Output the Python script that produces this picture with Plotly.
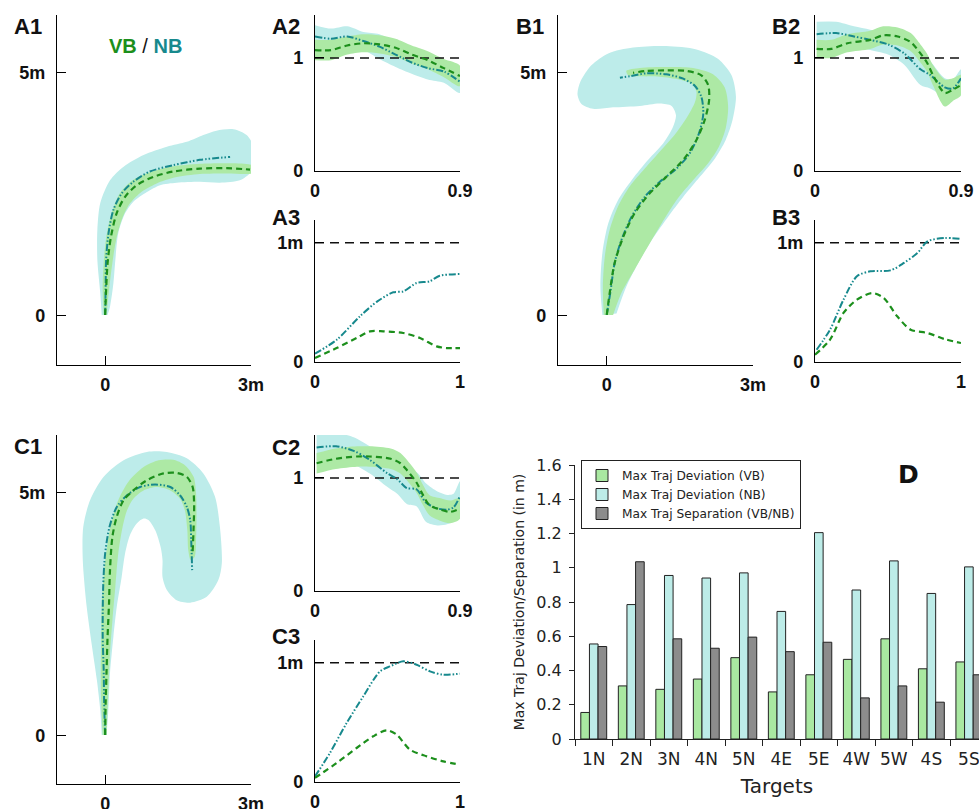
import plotly.graph_objects as go

W, H = 979, 809

GREEN_FILL = "#ade9a5"
CYAN_FILL = "#bdecea"
GREEN_LINE = "#1c8f1c"
TEAL_LINE = "#17898d"
BAR_VB = "#a9e8a1"
BAR_NB = "#bdece8"
BAR_SEP = "#8c8c8c"
LABEL_FONT = "Liberation Sans, Arial, sans-serif"
PLOT_FONT = "DejaVu Sans, sans-serif"

# ---------------- panel D: per-target summary (m) ----------------
targets = ["1N", "2N", "3N", "4N", "5N", "4E", "5E", "4W", "5W", "4S", "5S"]
dev_vb = [0.155, 0.31, 0.29, 0.35, 0.475, 0.275, 0.375, 0.465, 0.585, 0.41, 0.45]
dev_nb = [0.555, 0.785, 0.955, 0.94, 0.97, 0.745, 1.205, 0.87, 1.04, 0.85, 1.005]
sep_vbnb = [0.54, 1.035, 0.585, 0.53, 0.595, 0.51, 0.565, 0.24, 0.31, 0.215, 0.375]

# ---------------- 2-D mean trajectories (x, y in m) ----------------
a1_vb_path = [(0, 0.02), (0.02, 0.53), (0.05, 1.08), (0.12, 1.63), (0.24, 2.12), (0.41, 2.45),
              (0.65, 2.69), (0.99, 2.86), (1.40, 2.97), (1.95, 3.03), (2.50, 3.04), (2.98, 3.01)]
a1_nb_path = [(0, 0.02), (0.01, 0.53), (0.02, 1.15), (0.07, 1.70), (0.17, 2.18), (0.34, 2.52),
              (0.58, 2.76), (0.92, 2.97), (1.40, 3.10), (1.95, 3.21), (2.57, 3.27)]
a1_vb_band = [(-0.03, 0.02), (-0.05, 0.55), (-0.03, 1.10), (0.02, 1.60), (0.10, 2.00), (0.18, 2.25),
              (0.30, 2.52), (0.55, 2.78), (0.90, 2.95), (1.35, 3.07), (1.95, 3.13), (2.50, 3.14),
              (2.95, 3.12), (3.10, 3.06), (3.05, 2.94), (2.50, 2.93), (1.95, 2.92), (1.45, 2.85),
              (1.05, 2.72), (0.72, 2.53), (0.50, 2.30), (0.35, 2.00), (0.24, 1.63), (0.15, 1.10),
              (0.08, 0.53), (0.03, 0.02)]
a1_nb_band = [(-0.07, 0.02), (-0.10, 0.47), (-0.16, 1.15), (-0.16, 1.77), (-0.10, 2.32), (0.10, 2.79),
              (0.38, 3.07), (0.79, 3.31), (1.27, 3.48), (1.68, 3.58), (2.02, 3.72), (2.29, 3.81),
              (2.64, 3.84), (2.91, 3.72), (3.06, 3.48), (3.08, 3.21), (3.01, 2.97), (2.77, 2.79),
              (2.36, 2.74), (1.95, 2.76), (1.47, 2.74), (1.13, 2.69), (0.86, 2.55), (0.58, 2.35),
              (0.41, 2.11), (0.27, 1.70), (0.21, 1.15), (0.17, 0.67), (0.10, 0.19), (0.05, 0.02)]

b1_vb_path = [(0, 0.02), (0.06, 0.47), (0.16, 1.08), (0.34, 1.63), (0.57, 2.11), (0.88, 2.52),
              (1.22, 2.86), (1.57, 3.21), (1.84, 3.62), (2.01, 4.03), (2.10, 4.44), (2.08, 4.75),
              (1.94, 4.95), (1.63, 5.04), (1.22, 5.05), (0.81, 5.04), (0.54, 5.00)]
b1_nb_path = [(0, 0.02), (0.08, 0.53), (0.16, 1.08), (0.30, 1.56), (0.51, 2.04), (0.78, 2.45),
              (1.09, 2.76), (1.43, 3.03), (1.70, 3.34), (1.89, 3.75), (1.98, 4.16), (1.94, 4.51),
              (1.81, 4.73), (1.57, 4.88), (1.22, 4.97), (0.81, 4.99), (0.47, 4.93), (0.27, 4.90)]
b1_vb_band = [(-0.06, 0.02), (-0.08, 0.60), (-0.04, 1.22), (0.06, 1.77), (0.23, 2.25), (0.47, 2.66),
              (0.78, 3.03), (1.09, 3.38), (1.39, 3.72), (1.63, 4.06), (1.81, 4.40), (1.84, 4.61),
              (1.74, 4.78), (1.50, 4.86), (1.09, 4.92), (0.68, 4.93), (0.44, 4.95), (0.40, 5.04),
              (0.68, 5.10), (1.22, 5.12), (1.77, 5.10), (2.18, 4.97), (2.42, 4.70), (2.49, 4.30),
              (2.44, 3.86), (2.30, 3.48), (2.08, 3.14), (1.77, 2.79), (1.46, 2.42), (1.19, 2.01),
              (0.88, 1.49), (0.57, 0.95), (0.30, 0.47), (0.13, 0.02)]
b1_nb_band = [(-0.09, 0.02), (-0.13, 0.60), (-0.09, 1.29), (0.03, 1.90), (0.23, 2.38), (0.51, 2.79),
              (0.85, 3.21), (1.16, 3.55), (1.36, 3.89), (1.42, 4.13), (1.33, 4.32), (1.09, 4.37),
              (0.68, 4.32), (0.13, 4.29), (-0.28, 4.26), (-0.52, 4.36), (-0.60, 4.56), (-0.54, 4.82),
              (-0.31, 5.16), (0.03, 5.40), (0.54, 5.52), (1.22, 5.55), (1.84, 5.48), (2.28, 5.29),
              (2.56, 4.95), (2.65, 4.51), (2.58, 4.03), (2.44, 3.62), (2.22, 3.24), (1.91, 2.86),
              (1.57, 2.45), (1.26, 2.04), (0.95, 1.60), (0.64, 1.08), (0.40, 0.60), (0.20, 0.05)]

c1_vb_path = [(0, 0.02), (0.01, 0.67), (0.03, 1.36), (0.05, 2.04), (0.08, 2.73), (0.10, 3.41),
              (0.15, 4.10), (0.24, 4.51), (0.38, 4.85), (0.58, 5.05), (0.86, 5.26), (1.20, 5.40),
              (1.47, 5.41), (1.68, 5.33), (1.80, 5.12), (1.83, 4.78), (1.82, 4.30), (1.80, 3.79)]
c1_nb_path = [(0, 0.02), (-0.02, 0.67), (-0.03, 1.36), (-0.05, 2.04), (-0.04, 3.07), (0, 3.75),
              (0.09, 4.30), (0.24, 4.71), (0.45, 4.95), (0.72, 5.12), (1.03, 5.17), (1.34, 5.12),
              (1.54, 4.95), (1.68, 4.71), (1.75, 4.44), (1.77, 4.03), (1.79, 3.41)]
c1_vb_band = [(-0.05, 0.02), (-0.08, 0.67), (-0.09, 1.36), (-0.08, 2.04), (-0.07, 2.73), (-0.02, 3.41),
              (0.05, 3.96), (0.14, 4.44), (0.27, 4.85), (0.48, 5.23), (0.79, 5.53), (1.10, 5.67),
              (1.40, 5.68), (1.64, 5.57), (1.82, 5.33), (1.87, 4.99), (1.88, 4.51), (1.87, 4.03),
              (1.84, 3.68), (1.76, 3.62), (1.71, 3.82), (1.69, 4.23), (1.64, 4.64), (1.54, 4.88),
              (1.34, 5.05), (1.06, 5.12), (0.79, 5.05), (0.58, 4.88), (0.45, 4.64), (0.36, 4.30),
              (0.27, 3.75), (0.21, 3.07), (0.15, 2.38), (0.10, 1.70), (0.07, 1.01), (0.03, 0.02)]
c1_nb_band = [(-0.07, 0.02), (-0.10, 0.53), (-0.17, 1.15), (-0.27, 1.84), (-0.38, 2.66), (-0.46, 3.62),
              (-0.45, 4.30), (-0.31, 4.85), (-0.03, 5.33), (0.38, 5.67), (0.86, 5.84), (1.27, 5.84),
              (1.68, 5.71), (2.02, 5.40), (2.26, 4.92), (2.36, 4.30), (2.40, 3.55), (2.33, 3.21),
              (2.09, 2.86), (1.75, 2.74), (1.47, 2.79), (1.27, 3.00), (1.18, 3.27), (1.18, 3.62),
              (1.14, 3.89), (1.03, 4.23), (0.89, 4.44), (0.79, 4.47), (0.65, 4.37), (0.51, 4.13),
              (0.41, 3.75), (0.34, 3.27), (0.24, 2.66), (0.17, 2.04), (0.10, 1.29), (0.07, 0.60),
              (0.03, 0.02)]

# ---------------- speed profiles (mean and spread) ----------------
a2_t = [0, 0.1, 0.2, 0.3, 0.4, 0.5, 0.6, 0.7, 0.8, 0.9]
a2_vb = [1.07, 1.07, 1.11, 1.13, 1.12, 1.09, 1.03, 0.98, 0.91, 0.84]
a2_vb_sd = [0.09, 0.09, 0.08, 0.08, 0.08, 0.08, 0.08, 0.08, 0.08, 0.09]
a2_nb = [1.19, 1.17, 1.19, 1.15, 1.10, 1.03, 0.96, 0.91, 0.88, 0.79]
a2_nb_sd = [0.10, 0.09, 0.09, 0.08, 0.11, 0.11, 0.10, 0.10, 0.10, 0.10]

b2_t_vb = [0.01, 0.10, 0.20, 0.34, 0.42, 0.51, 0.59, 0.65, 0.69, 0.73, 0.80, 0.85, 0.90]
b2_vb = [1.08, 1.08, 1.13, 1.16, 1.20, 1.19, 1.14, 1.04, 0.96, 0.84, 0.69, 0.72, 0.76]
b2_vb_sd = [0.08, 0.08, 0.08, 0.08, 0.08, 0.08, 0.08, 0.08, 0.08, 0.09, 0.12, 0.10, 0.09]
b2_t_nb = [0.01, 0.13, 0.24, 0.34, 0.45, 0.55, 0.65, 0.71, 0.80, 0.85, 0.90]
b2_nb = [1.21, 1.22, 1.19, 1.16, 1.12, 1.04, 0.90, 0.85, 0.74, 0.73, 0.82]
b2_nb_sd = [0.11, 0.10, 0.09, 0.09, 0.09, 0.10, 0.14, 0.12, 0.08, 0.08, 0.08]

c2_t_vb = [0.01, 0.13, 0.26, 0.34, 0.47, 0.53, 0.57, 0.63, 0.67, 0.71, 0.78, 0.84, 0.90]
c2_vb = [1.13, 1.17, 1.19, 1.19, 1.17, 1.13, 1.07, 0.96, 0.85, 0.76, 0.72, 0.70, 0.73]
c2_vb_sd = [0.09, 0.09, 0.09, 0.09, 0.09, 0.09, 0.09, 0.09, 0.09, 0.09, 0.10, 0.10, 0.09]
c2_t_nb = [0.01, 0.13, 0.24, 0.34, 0.45, 0.51, 0.57, 0.63, 0.69, 0.76, 0.82, 0.86, 0.90]
c2_nb = [1.27, 1.28, 1.24, 1.16, 1.04, 0.99, 0.91, 0.90, 0.78, 0.73, 0.72, 0.74, 0.84]
c2_nb_sd = [0.13, 0.12, 0.12, 0.12, 0.12, 0.13, 0.14, 0.15, 0.17, 0.15, 0.13, 0.12, 0.13]

# ---------------- deviation from the straight path (m) ----------------
a3_t_vb = [0, 0.149, 0.287, 0.379, 0.471, 0.609, 0.724, 0.839, 0.908, 1.0]
a3_vb = [0.034, 0.117, 0.201, 0.257, 0.257, 0.243, 0.201, 0.131, 0.117, 0.117]
a3_t_nb = [0, 0.15, 0.31, 0.43, 0.54, 0.61, 0.70, 0.79, 0.86, 1.0]
a3_nb = [0.07, 0.187, 0.383, 0.508, 0.584, 0.592, 0.662, 0.676, 0.723, 0.737]

b3_t_vb = [0, 0.103, 0.195, 0.287, 0.391, 0.471, 0.563, 0.655, 0.770, 0.885, 1.0]
b3_vb = [0.061, 0.187, 0.411, 0.522, 0.578, 0.536, 0.383, 0.271, 0.243, 0.193, 0.159]
b3_t_nb = [0.011, 0.103, 0.195, 0.287, 0.379, 0.517, 0.609, 0.701, 0.770, 0.885, 1.0]
b3_nb = [0.103, 0.271, 0.522, 0.718, 0.760, 0.768, 0.830, 0.913, 1.011, 1.039, 1.031]

c3_t_vb = [0, 0.149, 0.287, 0.402, 0.494, 0.563, 0.655, 0.770, 0.885, 1.0]
c3_vb = [0.034, 0.159, 0.285, 0.383, 0.433, 0.397, 0.271, 0.215, 0.173, 0.145]
c3_t_nb = [0, 0.103, 0.218, 0.333, 0.448, 0.517, 0.609, 0.701, 0.793, 0.885, 1.0]
c3_nb = [0.047, 0.243, 0.494, 0.718, 0.927, 0.969, 1.011, 0.983, 0.927, 0.899, 0.908]

REF = 1.0

fig = go.Figure()


def ax_id(n):
    return ("x", "y") if n == 1 else (f"x{n}", f"y{n}")


def add_poly(n, pts, color):
    xa, ya = ax_id(n)
    fig.add_trace(go.Scatter(
        x=[p[0] for p in pts], y=[p[1] for p in pts], mode="lines", fill="toself",
        fillcolor=color, line=dict(width=0, color=color, shape="spline", smoothing=0.8),
        hoverinfo="skip", showlegend=False, xaxis=xa, yaxis=ya))


def add_line(n, xs, ys, color, dash, width=2.0):
    xa, ya = ax_id(n)
    fig.add_trace(go.Scatter(
        x=xs, y=ys, mode="lines",
        line=dict(color=color, width=width, dash=dash, shape="spline", smoothing=0.8),
        hoverinfo="skip", showlegend=False, xaxis=xa, yaxis=ya))


def add_band(n, xs, m, s, color):
    upper = [a + b for a, b in zip(m, s)]
    lower = [a - b for a, b in zip(m, s)]
    pts = list(zip(xs, upper)) + list(zip(xs[::-1], lower[::-1]))
    add_poly(n, pts, color)


VB_DASH = "6px,4px"
NB_DASH = "7px,2px,1.5px,2px,1.5px,2px"
REF_DASH = "9px,6px"

# 2-D trajectory panels
for n, nb_band, vb_band, nb_path, vb_path in [
        (1, a1_nb_band, a1_vb_band, a1_nb_path, a1_vb_path),
        (4, b1_nb_band, b1_vb_band, b1_nb_path, b1_vb_path),
        (7, c1_nb_band, c1_vb_band, c1_nb_path, c1_vb_path)]:
    add_poly(n, nb_band, CYAN_FILL)
    add_poly(n, vb_band, GREEN_FILL)
    add_line(n, [p[0] for p in nb_path], [p[1] for p in nb_path], TEAL_LINE, NB_DASH)
    add_line(n, [p[0] for p in vb_path], [p[1] for p in vb_path], GREEN_LINE, VB_DASH, 2.2)

# speed panels
for n, tv, vb, vsd, tn, nb, nsd in [
        (2, a2_t, a2_vb, a2_vb_sd, a2_t, a2_nb, a2_nb_sd),
        (5, b2_t_vb, b2_vb, b2_vb_sd, b2_t_nb, b2_nb, b2_nb_sd),
        (8, c2_t_vb, c2_vb, c2_vb_sd, c2_t_nb, c2_nb, c2_nb_sd)]:
    add_band(n, tn, nb, nsd, CYAN_FILL)
    add_band(n, tv, vb, vsd, GREEN_FILL)
    add_line(n, [0, 0.9], [REF, REF], "#111", REF_DASH, 1.5)
    add_line(n, tn, nb, TEAL_LINE, NB_DASH)
    add_line(n, tv, vb, GREEN_LINE, VB_DASH, 2.2)

# deviation panels
for n, tv, vb, tn, nb in [
        (3, a3_t_vb, a3_vb, a3_t_nb, a3_nb),
        (6, b3_t_vb, b3_vb, b3_t_nb, b3_nb),
        (9, c3_t_vb, c3_vb, c3_t_nb, c3_nb)]:
    add_line(n, [0, 1], [REF, REF], "#111", REF_DASH, 1.5)
    add_line(n, tn, nb, TEAL_LINE, NB_DASH)
    add_line(n, tv, vb, GREEN_LINE, VB_DASH, 2.2)

# panel D bars
for name, vals, col in [("Max Traj Deviation (VB)", dev_vb, BAR_VB),
                        ("Max Traj Deviation (NB)", dev_nb, BAR_NB),
                        ("Max Traj Separation (VB/NB)", sep_vbnb, BAR_SEP)]:
    fig.add_trace(go.Bar(x=targets, y=vals, name=name, marker=dict(color=col, line=dict(color="#222", width=1)),
                         xaxis="x10", yaxis="y10", hoverinfo="skip"))


def xd(a, b):
    return [a / W, b / W]


def yd(top, bottom):
    return [1 - bottom / H, 1 - top / H]


tick_font = dict(family=LABEL_FONT, size=18, color="#111", weight="bold")
base_axis = dict(showline=True, linecolor="#000", linewidth=1.3, ticks="inside", ticklen=9,
                 tickwidth=1.3, tickcolor="#000", showgrid=False, zeroline=False,
                 tickfont=tick_font, tickmode="array", fixedrange=True, automargin=False)

# (panel, x px span, y px span, x range, y range, x ticks, x labels, y ticks, y labels)
panels = [
    (1, (57, 251), (15, 365), [-0.99, 3], [-1.01, 6.19], [0, 3], ["0", "3m"], [0, 5], ["0", "5m"]),
    (2, (315, 460), (15, 171), [0, 0.9], [0, 1.38], [0, 0.9], ["0", "0.9"], [0, 1], ["0", "1"]),
    (3, (315, 460), (220, 362), [0, 1], [0, 1.19], [0, 1], ["0", "1"], [0, 1], ["0", "1m"]),
    (4, (558, 753), (15, 365), [-1.0, 3], [-1.01, 6.19], [0, 3], ["0", "3m"], [0, 5], ["0", "5m"]),
    (5, (815, 961), (15, 171), [0, 0.9], [0, 1.38], [0, 0.9], ["0", "0.9"], [0, 1], ["0", "1"]),
    (6, (815, 961), (220, 362), [0, 1], [0, 1.19], [0, 1], ["0", "1"], [0, 1], ["0", "1m"]),
    (7, (57, 251), (435, 784), [-0.99, 3], [-0.99, 6.19], [0, 3], ["0", "3m"], [0, 5], ["0", "5m"]),
    (8, (315, 460), (435, 591), [0, 0.9], [0, 1.38], [0, 0.9], ["0", "0.9"], [0, 1], ["0", "1"]),
    (9, (315, 460), (640, 782), [0, 1], [0, 1.19], [0, 1], ["0", "1"], [0, 1], ["0", "1m"]),
]

layout = dict(width=W, height=H, margin=dict(l=0, r=0, t=0, b=0, autoexpand=False),
              paper_bgcolor="white", plot_bgcolor="white", showlegend=True)

for n, xs, ys, xr, yr, xt, xl, yt, yl in panels:
    xa, ya = ax_id(n)
    xkey = "xaxis" if n == 1 else f"xaxis{n}"
    ykey = "yaxis" if n == 1 else f"yaxis{n}"
    layout[xkey] = dict(base_axis, domain=xd(*xs), range=xr, anchor=ya,
                        tickvals=xt, ticktext=xl, ticklabelstandoff=3)
    layout[ykey] = dict(base_axis, domain=yd(*ys), range=yr, anchor=xa,
                        tickvals=yt, ticktext=yl, ticklabelstandoff=7)

layout["xaxis10"] = dict(domain=xd(575, 979), anchor="y10", type="category",
                         categoryorder="array", categoryarray=targets,
                         range=[-0.5, 10.27], tickson="boundaries", ticks="outside", ticklen=6,
                         tickcolor="#222", showline=True, linecolor="#222", linewidth=1,
                         showgrid=False, zeroline=False, fixedrange=True, automargin=False,
                         ticklabelstandoff=5,
                         tickfont=dict(family=PLOT_FONT, size=17, color="#222"),
                         title=dict(text="Targets", font=dict(family=PLOT_FONT, size=20, color="#222"),
                                    standoff=10))
layout["yaxis10"] = dict(domain=yd(465, 739), anchor="x10", range=[0, 1.6], tick0=0, dtick=0.2,
                         ticks="outside", ticklen=5, tickcolor="#222", showline=True,
                         linecolor="#222", linewidth=1, showgrid=False, zeroline=False,
                         fixedrange=True, automargin=False, ticklabelstandoff=4,
                         tickfont=dict(family=PLOT_FONT, size=16, color="#222"),
                         title=dict(text="Max Traj Deviation/Separation (in m)",
                                    font=dict(family=PLOT_FONT, size=14, color="#222"), standoff=8))
layout["bargap"] = 0.31
layout["bargroupgap"] = 0
layout["barmode"] = "group"
layout["legend"] = dict(x=581 / W, y=1 - 460 / H, xanchor="left", yanchor="top",
                        bgcolor="white", bordercolor="#222", borderwidth=1,
                        font=dict(family=PLOT_FONT, size=12.2, color="#222"),
                        tracegroupgap=0, itemwidth=30)

# panel letters
panel_labels = [("A1", 12, 26), ("A2", 270, 26), ("A3", 270, 217), ("B1", 514, 26), ("B2", 770, 26),
                ("B3", 770, 217), ("C1", 12, 446), ("C2", 270, 447), ("C3", 270, 636)]
annotations = []
for txt, lx, ly in panel_labels:
    annotations.append(dict(text=f"<b>{txt}</b>", x=lx / W, y=1 - ly / H, xref="paper", yref="paper",
                            xanchor="left", yanchor="middle", showarrow=False,
                            font=dict(family=LABEL_FONT, size=22, color="#111")))
annotations.append(dict(text="<b>D</b>", x=896 / W, y=1 - 475 / H, xref="paper", yref="paper",
                        xanchor="left", yanchor="middle", showarrow=False,
                        font=dict(family=PLOT_FONT, size=25, color="#111")))
annotations.append(dict(text=f"<span style='color:{GREEN_LINE}'><b>VB</b></span> / "
                             f"<span style='color:{TEAL_LINE}'><b>NB</b></span>",
                        x=107 / W, y=1 - 46 / H, xref="paper", yref="paper",
                        xanchor="left", yanchor="middle", showarrow=False,
                        font=dict(family=LABEL_FONT, size=20, color="#111")))
layout["annotations"] = annotations

fig.update_layout(**layout)
fig.write_html("out.html")
